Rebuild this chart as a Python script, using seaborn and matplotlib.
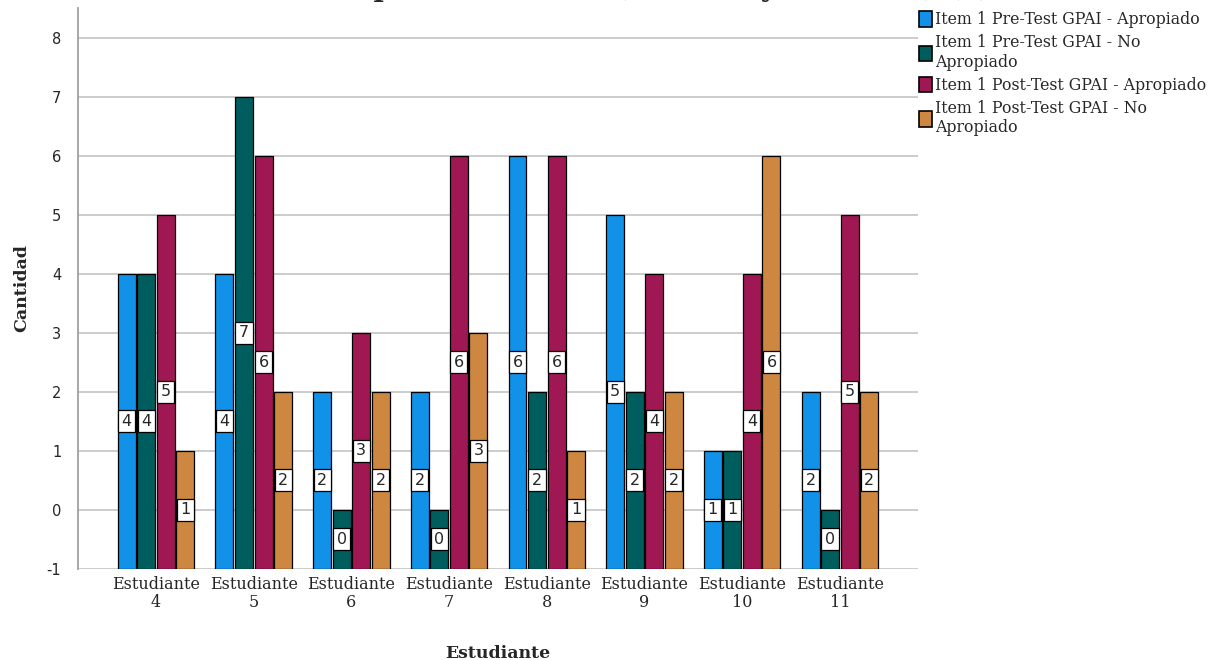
import seaborn as sns
import pandas as pd
import matplotlib.pyplot as plt
from matplotlib.patches import Patch

estudiantes = ["Estudiante\n4", "Estudiante\n5", "Estudiante\n6", "Estudiante\n7",
               "Estudiante\n8", "Estudiante\n9", "Estudiante\n10", "Estudiante\n11"]
series = ["Item 1 Pre-Test GPAI - Apropiado", "Item 1 Pre-Test GPAI - No Apropiado",
          "Item 1 Post-Test GPAI - Apropiado", "Item 1 Post-Test GPAI - No Apropiado"]
legend_labels = ["Item 1 Pre-Test GPAI - Apropiado", "Item 1 Pre-Test GPAI - No\nApropiado",
                 "Item 1 Post-Test GPAI - Apropiado", "Item 1 Post-Test GPAI - No\nApropiado"]
pre_apropiado = [4, 4, 2, 2, 6, 5, 1, 2]
pre_no_apropiado = [4, 7, 0, 0, 2, 2, 1, 0]
post_apropiado = [5, 6, 3, 6, 6, 4, 4, 5]
post_no_apropiado = [1, 2, 2, 3, 1, 2, 6, 2]
colores = ["#1192e8", "#005d5d", "#9f1853", "#cd8741"]
base = -1

rows = []
for s, vals in zip(series, [pre_apropiado, pre_no_apropiado, post_apropiado, post_no_apropiado]):
    for e, v in zip(estudiantes, vals):
        rows.append({"Estudiante": e, "Serie": s, "Cantidad": v})
df = pd.DataFrame(rows)

sns.set_style("white")
plt.rcParams["font.family"] = ["DejaVu Serif"]
plt.rcParams["axes.unicode_minus"] = False

fig = plt.figure(figsize=(12.22, 6.6), dpi=100)
ax = fig.add_axes([0.0638, 0.1379, 0.6874, 0.8500])

sns.barplot(data=df, x="Estudiante", y="Cantidad", hue="Serie", hue_order=series,
            order=estudiantes, palette=colores, saturation=1, width=0.8, gap=0.08,
            edgecolor="black", linewidth=0.9, legend=False, ax=ax, zorder=3)

# SPSS draws the bars up from the bottom of the scale (-1)
for cont in ax.containers:
    for bar in cont:
        h = bar.get_height()
        bar.set_y(base)
        bar.set_height(h - base)
        ax.text(bar.get_x() + bar.get_width() / 2, (h + base) / 2, f"{h:.0f}",
                ha="center", va="center", fontsize=11.5, family="DejaVu Sans", zorder=5,
                bbox=dict(boxstyle="square,pad=0.22", fc="white", ec="black", lw=0.9))

ax.set_ylim(-1, 8.5)
ax.set_xlim(-0.8, 7.8)
ax.set_yticks(range(-1, 9))
ax.yaxis.grid(True, color="#c8c8c8", linewidth=1.3, zorder=0)
ax.set_axisbelow(True)
for sp in ["top", "right", "bottom"]:
    ax.spines[sp].set_visible(False)
ax.spines["left"].set_color("#a0a0a0")
ax.spines["left"].set_linewidth(1.3)
ax.tick_params(axis="y", length=0, pad=12, labelsize=10.5)
ax.tick_params(axis="x", length=0, pad=5, labelsize=11.5)
for t in ax.get_yticklabels():
    t.set_family("DejaVu Sans")
for t in ax.get_xticklabels():
    t.set_linespacing(1.05)

ax.set_xlabel("Estudiante", fontsize=12.5, fontweight="bold", labelpad=25)
ax.set_ylabel("Cantidad", fontsize=12.5, fontweight="bold", labelpad=12)

fig.text(0.513, 1 + 4 / 660, "Item 1 por Estudiante (Pre-Test y Post-Test) (1)",
         ha="center", va="baseline", fontsize=20, fontweight="bold")

handles = [Patch(facecolor=c, edgecolor="black", linewidth=1.2) for c in colores]
fig.legend(handles, legend_labels, loc="upper left", bbox_to_anchor=(919 / 1222, 1 - 11 / 660),
           frameon=False, fontsize=11.3, handlelength=0.85, handleheight=1.15,
           handletextpad=0.2, labelspacing=0.38, borderpad=0, borderaxespad=0)

fig.savefig("out.png", dpi=100)
